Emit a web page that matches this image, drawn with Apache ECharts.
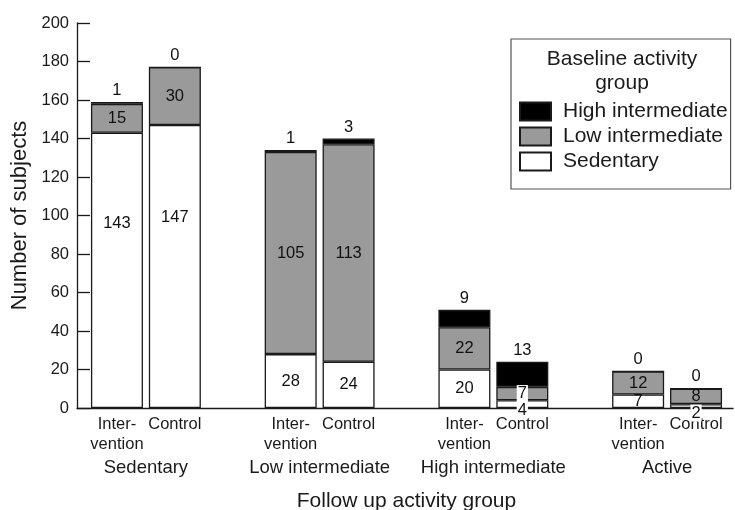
<!DOCTYPE html>
<html>
<head>
<meta charset="utf-8">
<script src="https://cdn.jsdelivr.net/npm/echarts@6/dist/echarts.min.js"></script>
<style>
  html, body { margin: 0; background: #fff; }
  #chart { width: 735px; height: 510px; }
</style>
</head>
<body>
<div id="chart"></div>
<script>
// bars, left to right: two per follow up group
const barLabels = ["Inter-\nvention", "Control", "Inter-\nvention", "Control", "Inter-\nvention", "Control", "Inter-\nvention", "Control"];
const groupLabels = ["Sedentary", "Low intermediate", "High intermediate", "Active"];

// baseline activity group counts per bar
const sedentary = [143, 147, 28, 24, 20, 4, 7, 2];
const lowIntermediate = [15, 30, 105, 113, 22, 7, 12, 8];
const highIntermediate = [1, 0, 1, 3, 9, 13, 0, 0];

const yMin = 0;
const yMax = 200;
const yStep = 20;

const FONT = "'Liberation Sans', Arial, sans-serif";
const INK = "#1a1a1a";

// two bars per group, one empty slot between groups
const slots = [];
groupLabels.forEach((g, gi) => {
  slots.push(gi * 2, gi * 2 + 1);
  if (gi < groupLabels.length - 1) slots.push(null);
});
const slotNames = slots.map((i) => (i === null ? "" : barLabels[i]));
// group names sit on slot boundaries (boundaryGap false axis)
const groupAxisNames = Array(slots.length + 1).fill("");
groupLabels.forEach((g, gi) => { groupAxisNames[gi * 3 + 1] = g; });

// label nudges for crowded / tall segments
const labelTweaks = {
  Sedentary: {
    0: { offset: [0, -47] },
    1: { offset: [0, -49] },
    5: { offset: [0, 6], backgroundColor: "#fff", padding: [0, 1] },
    7: { offset: [0, 7], backgroundColor: "#fff", padding: [0, 1] }
  },
  "Low intermediate": {
    5: { backgroundColor: "#fff", padding: [0, 1] }
  }
};

const toSlots = (name, arr) =>
  slots.map((i) => {
    if (i === null) return "-";
    const tw = labelTweaks[name] && labelTweaks[name][i];
    return tw ? { value: arr[i], label: tw } : arr[i];
  });

const segStyle = (color) => ({ color, borderColor: INK, borderWidth: 1.3 });
const insideLabel = { show: true, position: "inside", color: "#111", fontSize: 16.5, fontFamily: FONT };

const chart = echarts.init(document.getElementById("chart"), null, { renderer: "canvas" });

chart.setOption({
  animation: false,
  backgroundColor: "#fff",
  textStyle: { fontFamily: FONT, color: INK },
  title: {
    text: "Baseline activity\ngroup",
    left: 622,
    top: 47,
    padding: 0,
    textAlign: "center",
    textStyle: { fontFamily: FONT, fontSize: 21, fontWeight: "normal", color: INK, lineHeight: 24 }
  },
  legend: {
    left: 511,
    top: 39,
    orient: "vertical",
    data: ["High intermediate", "Low intermediate", "Sedentary"],
    icon: "rect",
    itemWidth: 31,
    itemHeight: 18,
    itemGap: 4,
    padding: [62, 3, 17, 8],
    borderColor: "#555",
    borderWidth: 1.2,
    backgroundColor: "#fff",
    textStyle: { fontFamily: FONT, fontSize: 21, color: INK, padding: [0, 0, 0, 7] }
  },
  grid: [
    { left: 88, width: 637, top: 23, height: 385, outerBoundsMode: "none", containLabel: false },
    { left: 77, width: 656, top: 23, height: 385, outerBoundsMode: "none", containLabel: false }
  ],
  xAxis: [
    {
      type: "category",
      gridIndex: 0,
      data: slotNames,
      axisLine: { show: false },
      axisTick: { show: false },
      axisLabel: { interval: 0, margin: 6, fontSize: 16.5, lineHeight: 20, color: INK, fontFamily: FONT }
    },
    {
      type: "category",
      gridIndex: 0,
      position: "bottom",
      boundaryGap: false,
      data: groupAxisNames,
      axisLine: { show: false },
      axisTick: { show: false },
      axisLabel: { interval: 0, margin: 50, fontSize: 18.5, color: INK, fontFamily: FONT },
      name: "Follow up activity group",
      nameLocation: "middle",
      nameGap: 83,
      nameTextStyle: { fontSize: 21, color: INK, fontFamily: FONT }
    },
    {
      type: "value",
      gridIndex: 1,
      min: 0,
      max: 1,
      axisLine: { show: true, lineStyle: { color: INK, width: 1.3 } },
      axisTick: { show: false },
      axisLabel: { show: false },
      splitLine: { show: false }
    }
  ],
  yAxis: [
    { type: "value", gridIndex: 0, min: yMin, max: yMax, show: false },
    {
      type: "value",
      gridIndex: 1,
      min: yMin,
      max: yMax,
      interval: yStep,
      name: "Number of subjects",
      nameLocation: "middle",
      nameGap: 40,
      nameTextStyle: { fontSize: 22, color: INK, fontFamily: FONT },
      axisLine: { show: true, lineStyle: { color: INK, width: 1.3 } },
      axisTick: { show: true, inside: true, length: 13, lineStyle: { color: INK, width: 1.3 } },
      axisLabel: { margin: 8, fontSize: 16.5, color: INK, fontFamily: FONT },
      splitLine: { show: false }
    }
  ],
  series: [
    {
      name: "Sedentary",
      type: "bar",
      stack: "total",
      barWidth: 52,
      xAxisIndex: 0,
      yAxisIndex: 0,
      itemStyle: segStyle("#fff"),
      label: insideLabel,
      data: toSlots("Sedentary", sedentary)
    },
    {
      name: "Low intermediate",
      type: "bar",
      stack: "total",
      barWidth: 52,
      xAxisIndex: 0,
      yAxisIndex: 0,
      itemStyle: segStyle("#9a9a9a"),
      label: insideLabel,
      data: toSlots("Low intermediate", lowIntermediate)
    },
    {
      name: "High intermediate",
      type: "bar",
      stack: "total",
      barWidth: 52,
      xAxisIndex: 0,
      yAxisIndex: 0,
      itemStyle: segStyle("#000"),
      label: { show: true, position: "top", distance: 3, color: "#111", fontSize: 16.5, fontFamily: FONT },
      data: toSlots("High intermediate", highIntermediate)
    }
  ]
});
</script>
</body>
</html>
